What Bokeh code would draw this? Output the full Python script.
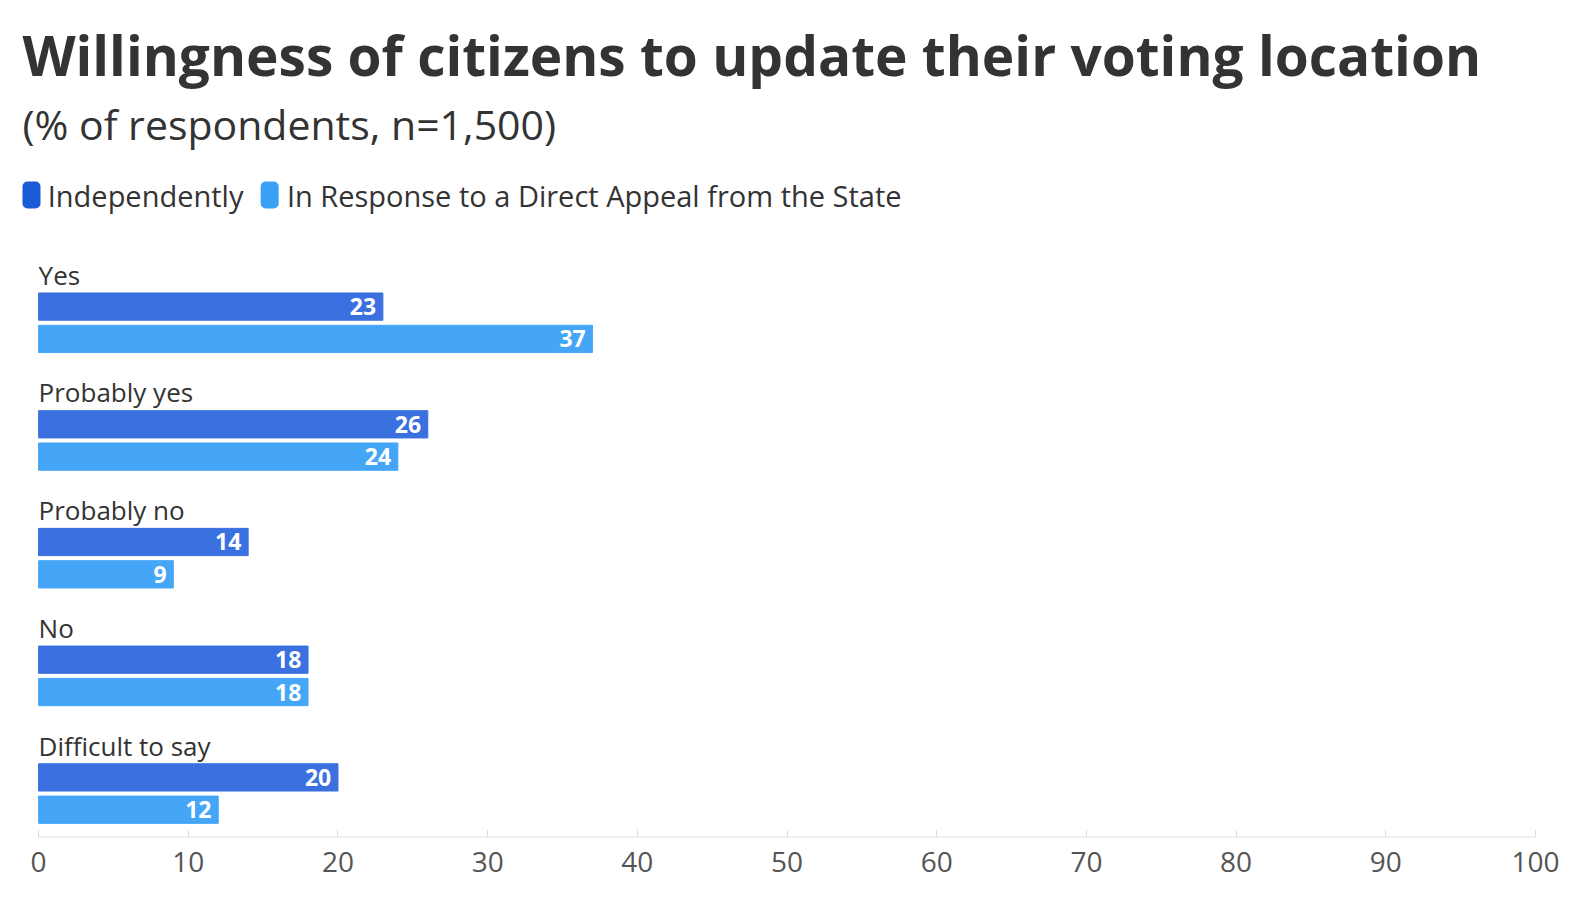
from bokeh.plotting import figure
from bokeh.models import Range1d, FixedTicker, ColumnDataSource
from bokeh.core.properties import value
from bokeh.embed import file_html
from bokeh.resources import INLINE

categories = ["Yes", "Probably yes", "Probably no", "No", "Difficult to say"]
independently = [23, 26, 14, 18, 20]
appeal = [37, 24, 9, 18, 12]
series_names = ["Independently", "In Response to a Direct Appeal from the State"]
ticks = list(range(0, 101, 10))

DARK = "#3b70e0"
LIGHT = "#45a6f7"
FONT = "Open Sans"
W, H = 1570, 890
PXU = 14.77  # target pixels per unit
X0 = -2.545

p = figure(width=W, height=H, output_backend="svg", toolbar_location=None,
           x_range=Range1d(X0, 100), y_range=Range1d(830, 1.5),
           min_border_left=0, min_border_right=35, min_border_top=0, min_border_bottom=53)
p.outline_line_color = None
p.grid.visible = False
p.yaxis.visible = False
ax = p.xaxis[0]
ax.ticker = FixedTicker(ticks=ticks)
ax.axis_line_color = None
ax.major_tick_line_color = "#dddddd"
ax.major_tick_out = 0
ax.major_tick_in = 8
ax.minor_tick_line_color = None
ax.major_label_text_font = FONT
ax.major_label_text_font_size = "28px"
ax.major_label_text_color = "#555555"
ax.major_label_standoff = 14
p.segment(x0=[0], x1=[100], y0=[830], y1=[830], line_color="#dddddd", line_width=2)

def px(v):
    return (v - 38) / PXU

step = 116.5
cat_y = [273 + i * step for i in range(len(categories))]
dark_y = [304.5 + i * step for i in range(len(categories))]
light_y = [336.5 + i * step for i in range(len(categories))]

p.text(x=[px(38)] * len(categories), y=cat_y, text=categories, text_font=value(FONT),
       text_font_size="26px", text_color="#333333", text_baseline="middle")
for vals, ys, col in [(independently, dark_y, DARK), (appeal, light_y, LIGHT)]:
    src = ColumnDataSource(dict(y=ys, v=vals, lab=[str(v) for v in vals],
                                lx=[v - 0.45 for v in vals]))
    p.hbar(y="y", left=0, right="v", height=27, source=src, fill_color=col,
           line_color=col)
    p.text(x="lx", y="y", text="lab", source=src, text_font=value(FONT),
           text_font_style="bold", text_font_size="23px", text_color="white",
           text_align="right", text_baseline="middle")

p.text(x=[px(22)], y=[55], text=["Willingness of citizens to update their voting location"],
       text_font=value(FONT), text_font_style="bold", text_font_size="55px",
       text_color="#333333", text_baseline="middle")
p.text(x=[px(22)], y=[124], text=["(% of respondents, n=1,500)"], text_font=value(FONT),
       text_font_size="41px", text_color="#333333", text_baseline="middle")

p.rect(x=[px(31), px(266)], y=[194, 194], width=18, height=27, width_units="screen",
       height_units="screen", fill_color=["#1a5ad6", "#3aa0f5"], line_color=None,
       border_radius=5)
p.text(x=[px(47), px(283)], y=[195, 195], text=series_names, text_font=value(FONT),
       text_font_size="29px", text_color="#333333", text_baseline="middle")

open("out.html", "w").write(file_html(p, INLINE))
